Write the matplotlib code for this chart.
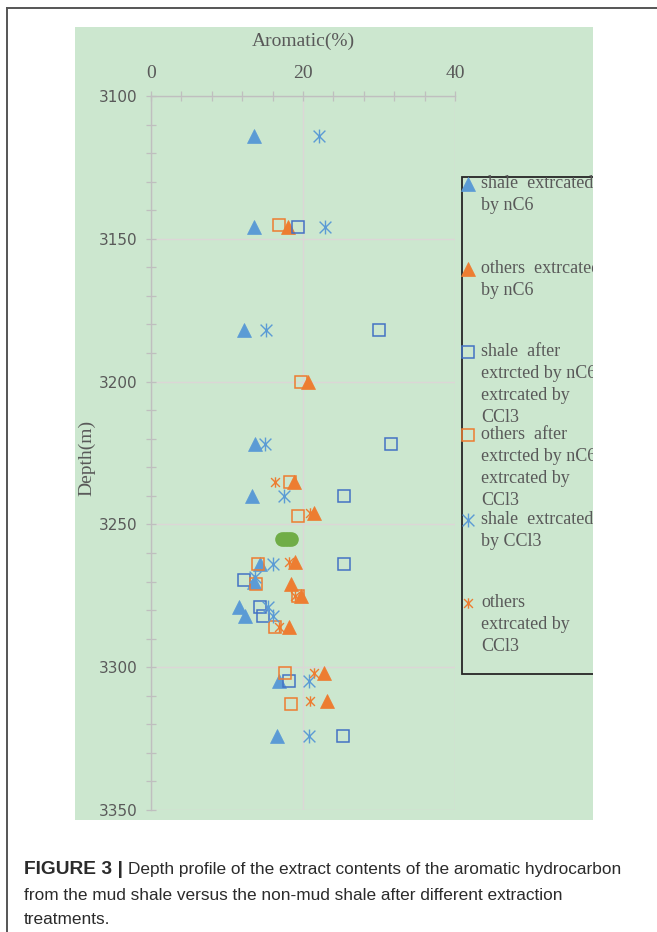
import matplotlib
matplotlib.use("Agg")
import matplotlib.pyplot as plt
from matplotlib.patches import Rectangle
from matplotlib.lines import Line2D
from matplotlib.path import Path
from matplotlib.ticker import MultipleLocator

# ---- data: aromatic content (%) vs depth (m) ----
shale_nc6_x = [13.5, 13.6, 12.2, 13.7, 13.3, 14.3, 13.5, 11.6, 12.4, 16.8, 16.6]
shale_nc6_d = [3114, 3146, 3182, 3222, 3240, 3264, 3270, 3279, 3282, 3305, 3324]

others_nc6_x = [18.0, 20.6, 18.8, 21.5, 19.0, 18.4, 19.8, 18.1, 22.8, 23.1]
others_nc6_d = [3146, 3200, 3235, 3246, 3263, 3271, 3275, 3286, 3302, 3312]

shale_after_x = [19.3, 30.0, 31.6, 25.4, 25.4, 12.2, 14.3, 14.8, 18.1, 25.2]
shale_after_d = [3146, 3182, 3222, 3240, 3264, 3269.5, 3279, 3282, 3305, 3324]

others_after_x = [16.8, 19.8, 18.3, 19.4, 14.1, 13.8, 19.3, 16.3, 17.6, 18.4]
others_after_d = [3145, 3200, 3235, 3247, 3264, 3271, 3275, 3286, 3302, 3313]

shale_ccl3_x = [22.1, 22.9, 15.1, 15.0, 17.5, 16.0, 13.7, 15.4, 16.1, 20.8, 20.8]
shale_ccl3_d = [3114, 3146, 3182, 3222, 3240, 3264, 3268.5, 3279, 3282, 3305, 3324]

others_ccl3_x = [16.3, 20.9, 18.2, 18.9, 16.9, 21.4, 20.9]
others_ccl3_d = [3235, 3246, 3263, 3275, 3286, 3302, 3312]

extra_x = [17.2, 17.6, 18.0, 18.4]
extra_d = [3255, 3255, 3255, 3255]

legend_labels = [
    ["shale  extrcated", "by nC6"],
    ["others  extrcated", "by nC6"],
    ["shale  after", "extrcted by nC6", "extrcated by", "CCl3"],
    ["others  after", "extrcted by nC6", "extrcated by", "CCl3"],
    ["shale  extrcated", "by CCl3"],
    ["others", "extrcated by", "CCl3"],
]

x_ticks = [0, 20, 40]
y_ticks = [3100, 3150, 3200, 3250, 3300, 3350]

# ---- styling ----
W, H = 657, 932
BG = "#CCE7CF"
BLUE = "#5B9BD5"
DBLUE = "#4472C4"
ORANGE = "#ED7D31"
GREEN = "#70AD47"
TXT = "#595959"
AXC = "#BFBFBF"
GRIDC = "#DCD6D6"
SERIF = ["Liberation Serif", "DejaVu Serif"]

star = Path([(0, -1), (0, 1), (-0.85, -0.85), (0.85, 0.85), (-0.85, 0.85), (0.85, -0.85)],
            [Path.MOVETO, Path.LINETO, Path.MOVETO, Path.LINETO, Path.MOVETO, Path.LINETO])


def fx(px):
    return px / W


def fy(py):
    return 1 - py / H


fig = plt.figure(figsize=(W / 100, H / 100), dpi=100, facecolor="white")

# panel background
fig.add_artist(Rectangle((fx(75), fy(820)), fx(593) - fx(75), fy(27) - fy(820),
                         transform=fig.transFigure, facecolor=BG, edgecolor="none", zorder=0))
# outer frame (left and top)
fig.add_artist(Line2D([fx(7), fx(7)], [fy(8), fy(940)], transform=fig.transFigure,
                      color="#555555", lw=1.4, zorder=1))
fig.add_artist(Line2D([fx(7), fx(660)], [fy(8), fy(8)], transform=fig.transFigure,
                      color="#555555", lw=1.4, zorder=1))

ax = fig.add_axes([fx(151), fy(810), fx(455) - fx(151), fy(96) - fy(810)])
ax.set_facecolor("none")
ax.set_xlim(0, 40)
ax.set_ylim(3350, 3100)

ax.xaxis.tick_top()
ax.set_xticks(x_ticks)
ax.set_yticks(y_ticks)
ax.xaxis.set_minor_locator(MultipleLocator(4))
ax.yaxis.set_minor_locator(MultipleLocator(10))
ax.grid(True, which="major", color=GRIDC, lw=1.0, zorder=0)
ax.set_axisbelow(True)

for s in ("right", "bottom"):
    ax.spines[s].set_visible(False)
for s in ("left", "top"):
    ax.spines[s].set_color(AXC)
    ax.spines[s].set_linewidth(1.0)

ax.tick_params(which="both", direction="inout", length=7.5, width=0.9, color=AXC)
ax.tick_params(axis="x", which="major", pad=6, labelsize=14, labelcolor=TXT)
ax.tick_params(axis="y", which="major", pad=6, labelsize=11, labelcolor=TXT)
for lab in ax.get_xticklabels():
    lab.set_family(SERIF)
for lab in ax.get_yticklabels():
    lab.set_family("DejaVu Sans")

xl = ax.set_xlabel("Aromatic(%)", fontsize=14, color=TXT, family=SERIF)
ax.xaxis.set_label_position("top")
ax.xaxis.set_label_coords(0.5, 1 + 55 / 714)
xl.set_va("center")
yl = ax.set_ylabel("Depth(m)", fontsize=14, color=TXT, family=SERIF)
ax.yaxis.set_label_coords((87 - 151) / 304, 1 - (458 - 96) / 714)
yl.set_va("center")

# ---- series ----
ax.plot(extra_x, extra_d, ls="none", marker="o", ms=9.5, mfc=GREEN, mec=GREEN, zorder=3)
series = [
    dict(x=shale_nc6_x, d=shale_nc6_d, marker="^", ms=9.5, mfc=BLUE, mec=BLUE, mew=0.5),
    dict(x=others_nc6_x, d=others_nc6_d, marker="^", ms=9.5, mfc=ORANGE, mec=ORANGE, mew=0.5),
    dict(x=shale_after_x, d=shale_after_d, marker="s", ms=9.0, mfc="none", mec=DBLUE, mew=1.1),
    dict(x=others_after_x, d=others_after_d, marker="s", ms=9.0, mfc="none", mec=ORANGE, mew=1.1),
    dict(x=shale_ccl3_x, d=shale_ccl3_d, marker=star, ms=10, mfc="none", mec=BLUE, mew=1.0),
    dict(x=others_ccl3_x, d=others_ccl3_d, marker=star, ms=7.5, mfc="none", mec=ORANGE, mew=1.0),
]
for i, s in enumerate(series):
    ax.plot(s["x"], s["d"], ls="none", marker=s["marker"], ms=s["ms"], mfc=s["mfc"],
            mec=s["mec"], mew=s["mew"], zorder=4 + i)

# ---- legend (panel-clipped box on the right) ----
fig.add_artist(Rectangle((fx(462), fy(674)), fx(640) - fx(462), fy(177) - fy(674),
                         transform=fig.transFigure, facecolor="none", edgecolor="#262626",
                         lw=1.3, zorder=5))
entry_y = [183, 268, 351, 434, 519, 602]
for s, lines, ey in zip(series, legend_labels, entry_y):
    fig.add_artist(Line2D([fx(468)], [fy(ey + 1)], transform=fig.transFigure, ls="none",
                          marker=s["marker"], ms=s["ms"], mfc=s["mfc"], mec=s["mec"],
                          mew=s["mew"], zorder=6))
    for k, line in enumerate(lines):
        fig.text(fx(481), fy(ey + 22 * k + 5), line, fontsize=13, color=TXT,
                 family=SERIF, va="baseline", ha="left", zorder=6)

# mask to the right of the panel
fig.add_artist(Rectangle((fx(593), fy(820)), fx(700) - fx(593), fy(27) - fy(820),
                         transform=fig.transFigure, facecolor="white", edgecolor="none",
                         zorder=20))

# ---- caption ----
CAP = ["Liberation Sans", "DejaVu Sans"]
csize = 12.4
CAPC = "#2b2b2b"
t1 = fig.text(fx(24), fy(874), "FIGURE 3 |", fontsize=13.8, fontweight="bold",
              color=CAPC, family=CAP, va="baseline")
fig.canvas.draw()
w1 = t1.get_window_extent(fig.canvas.get_renderer()).width
fig.text(fx(24 + w1 + 5), fy(874),
         "Depth profile of the extract contents of the aromatic hydrocarbon",
         fontsize=csize, color=CAPC, family=CAP, va="baseline")
fig.text(fx(24), fy(900), "from the mud shale versus the non-mud shale after different extraction",
         fontsize=csize, color=CAPC, family=CAP, va="baseline")
fig.text(fx(24), fy(924), "treatments.", fontsize=csize, color=CAPC, family=CAP,
         va="baseline")

fig.savefig("out.png", dpi=100, facecolor="white")
